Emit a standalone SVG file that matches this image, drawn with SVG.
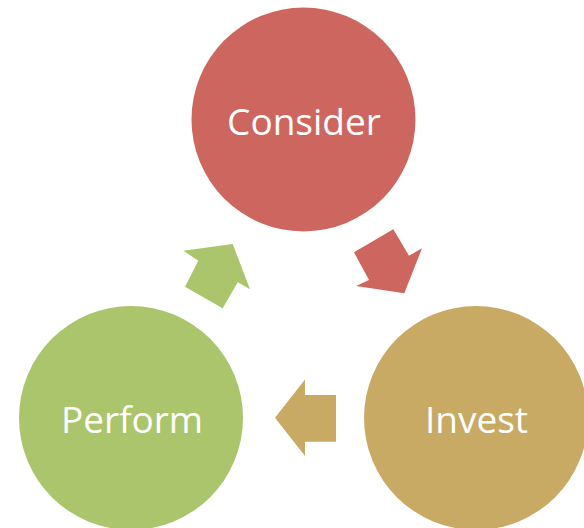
<svg xmlns="http://www.w3.org/2000/svg" width="584" height="528" viewBox="0 0 584 528">
<style>
.lbl{font-family:"Open Sans","Noto Sans","Liberation Sans",sans-serif;font-size:37px;fill:#ffffff;text-anchor:middle}
</style>
<rect width="584" height="528" fill="#ffffff"/>
<g id="consider">
<circle cx="303.5" cy="119.5" r="112" fill="#CD665F"/>
<text class="lbl" x="304" y="135">Consider</text>
</g>
<g id="invest">
<circle cx="476" cy="418" r="112" fill="#C9AA64"/>
<text class="lbl" x="476.5" y="433">Invest</text>
</g>
<g id="perform">
<circle cx="131" cy="418" r="112" fill="#ABC56C"/>
<text class="lbl" x="132" y="433">Perform</text>
</g>
<g id="connectors">
<polygon points="393.3,229.3 409,255.7 422,248.3 404.3,293.3 356,286 369,280 354,252.3" fill="#CD665F"/>
<polygon points="336,395 305,395 305,379.4 275,417.7 305,456 305,441.7 336,441.7" fill="#C9AA64"/>
<polygon points="198.3,260.7 183.3,250.7 232.7,244 250,289.3 237.7,282.3 222.7,308.3 185,286.7" fill="#ABC56C"/>
</g>
</svg>
